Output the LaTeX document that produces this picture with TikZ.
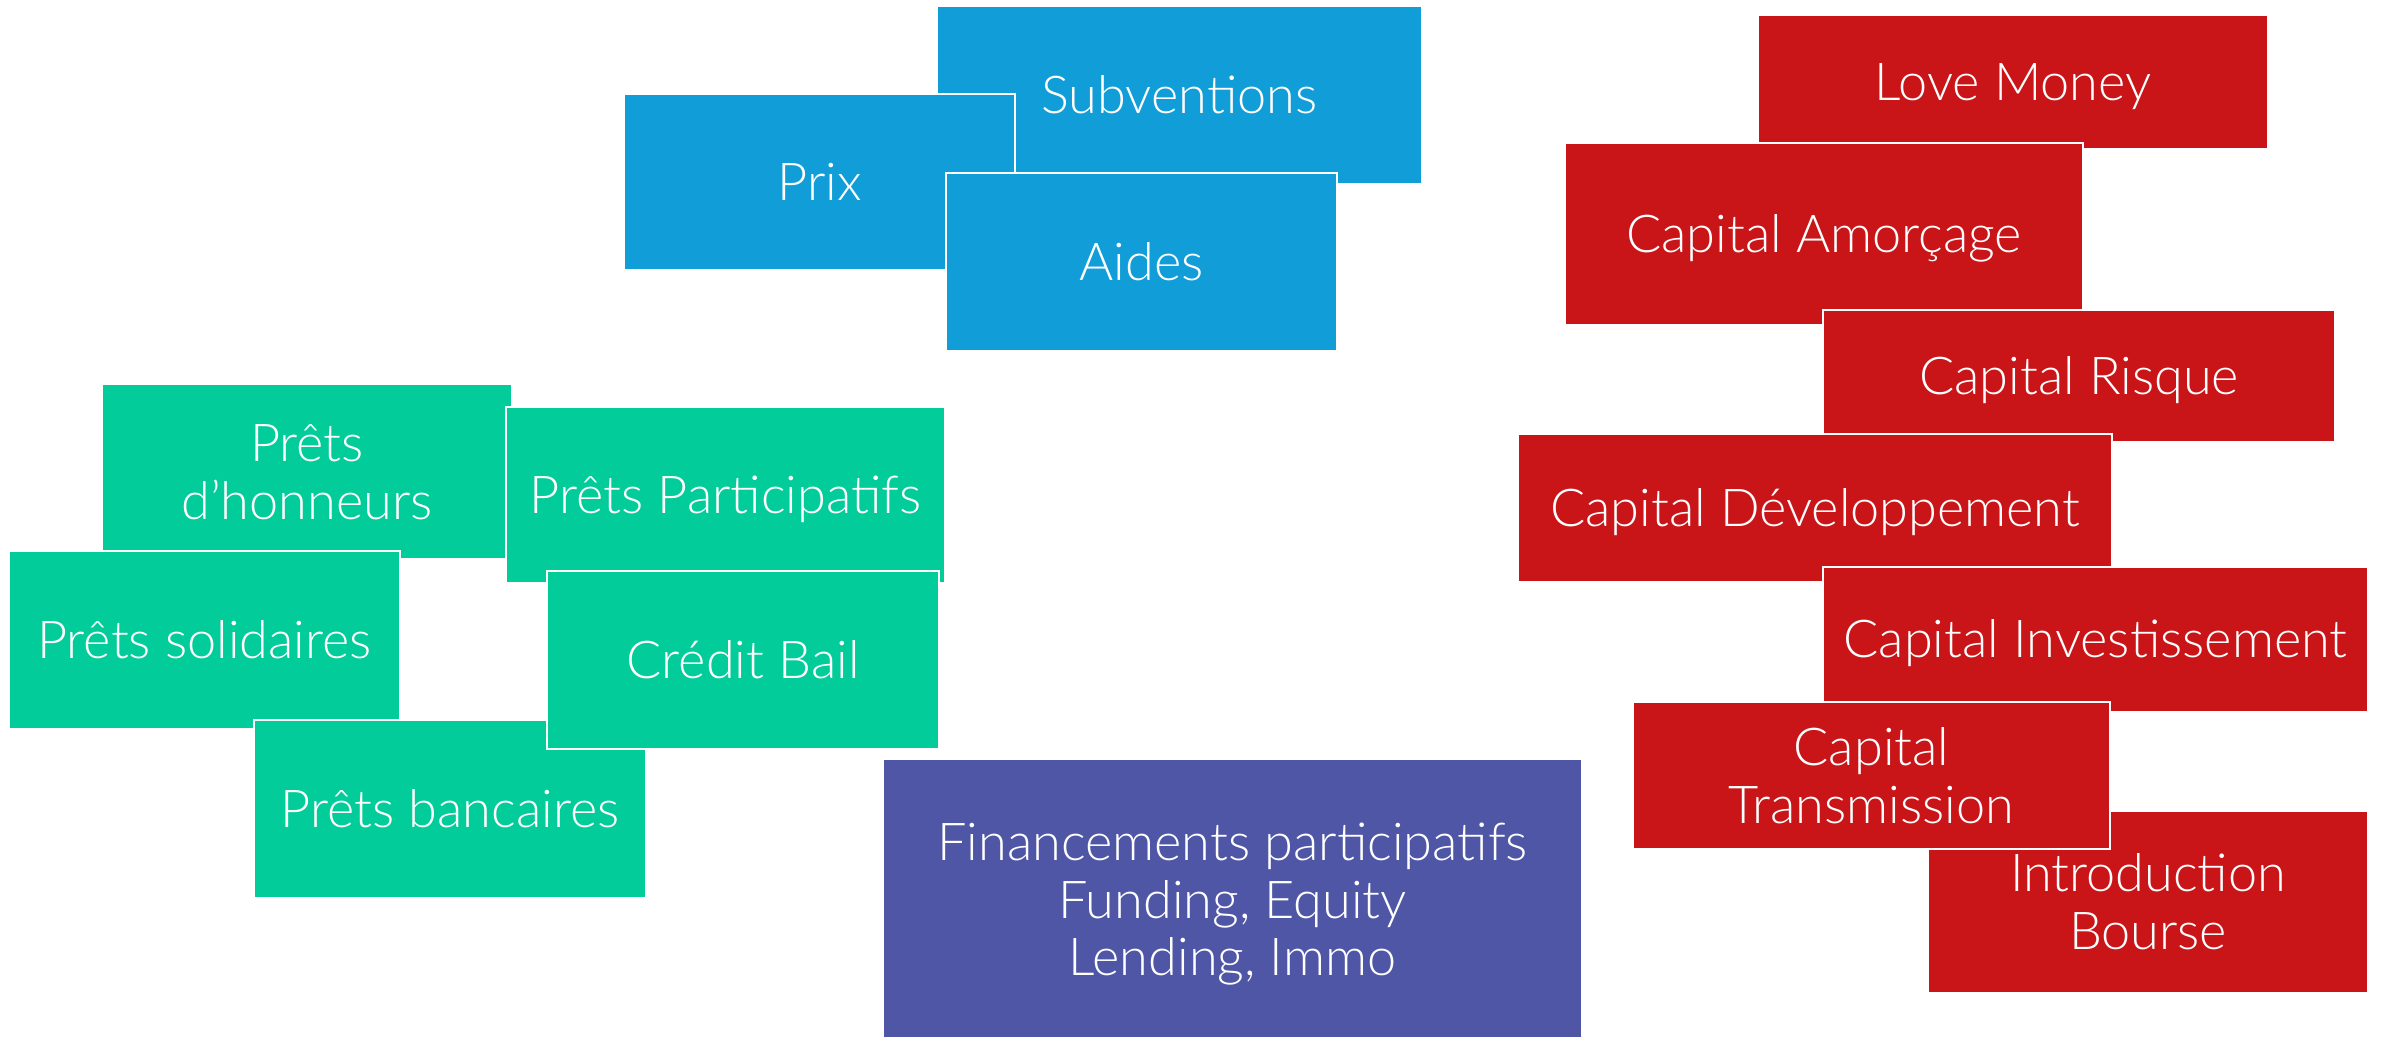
\documentclass[tikz,border=0pt]{standalone}
\usepackage{fontspec}
\setmainfont{Lato Light}
\definecolor{cblue}{HTML}{119DD8}
\definecolor{cgreen}{HTML}{02CC9A}
\definecolor{cpurple}{HTML}{4F56A5}
\definecolor{cred}{HTML}{C91418}
\newcommand{\ls}{\vrule width 0pt height 0.88em depth 0.16em\relax}
\tikzset{
  box/.style={rectangle, draw=white, line width=0.6pt, inner sep=0pt, align=center,
    text=white, font=\fontsize{14.85}{16.4}\selectfont},
  bluebox/.style={box, fill=cblue},
  greenbox/.style={box, fill=cgreen},
  purplebox/.style={box, fill=cpurple},
  redbox/.style={box, fill=cred},
}
\begin{document}
\begin{tikzpicture}[x=0.01cm,y=-0.01cm]
\useasboundingbox (0,0) rectangle (2382,1037);
\fill[white] (0,0) rectangle (2382,1037);
% blue group
\node[bluebox, minimum width=4.85cm, minimum height=1.78cm] (subv) at (1179.5,95) {\ls Subventions};
\node[bluebox, minimum width=3.91cm, minimum height=1.76cm] (prix) at (819.5,182) {\ls Prix};
\node[bluebox, minimum width=3.91cm, minimum height=1.78cm] (aides) at (1141.5,262) {\ls Aides};
% green group
\node[greenbox, minimum width=4.10cm, minimum height=1.75cm] (honn) at (307,471.5) {\ls Prêts\\\ls d'honneurs};
\node[greenbox, minimum width=4.39cm, minimum height=1.76cm] (part) at (725.5,495) {\ls Prêts Participatifs};
\node[greenbox, minimum width=3.91cm, minimum height=1.78cm] (soli) at (204.5,640) {\ls Prêts solidaires};
\node[greenbox, minimum width=3.92cm, minimum height=1.78cm] (banc) at (450,809) {\ls Prêts bancaires};
\node[greenbox, minimum width=3.92cm, minimum height=1.78cm] (bail) at (743,660) {\ls Crédit Bail};
% purple
\begin{scope}
\clip (0,0) rectangle (2382,1037);
\node[purplebox, draw=none, minimum width=6.97cm, minimum height=2.80cm] (fin) at (1232.5,900) {\ls Financements participatifs\\\ls Funding, Equity\\\ls Lending, Immo};
\end{scope}
% red group
\node[redbox, minimum width=5.10cm, minimum height=1.34cm] (love) at (2013,82) {\ls Love Money};
\node[redbox, minimum width=5.18cm, minimum height=1.82cm] (amor) at (1824,234) {\ls Capital Amorçage};
\node[redbox, minimum width=5.12cm, minimum height=1.32cm] (risq) at (2079,376) {\ls Capital Risque};
\node[redbox, minimum width=5.94cm, minimum height=1.48cm] (dev) at (1815,508) {\ls Capital Développement};
\node[redbox, minimum width=5.45cm, minimum height=1.45cm] (inv) at (2095.5,639.5) {\ls Capital Investissement};
\node[redbox, minimum width=4.40cm, minimum height=1.82cm] (bour) at (2148,902) {\ls Introduction\\\ls Bourse};
\node[redbox, minimum width=4.77cm, minimum height=1.47cm] (trans) at (1871.5,775.5) {\ls Capital\\\ls Transmission};
\end{tikzpicture}
\end{document}
